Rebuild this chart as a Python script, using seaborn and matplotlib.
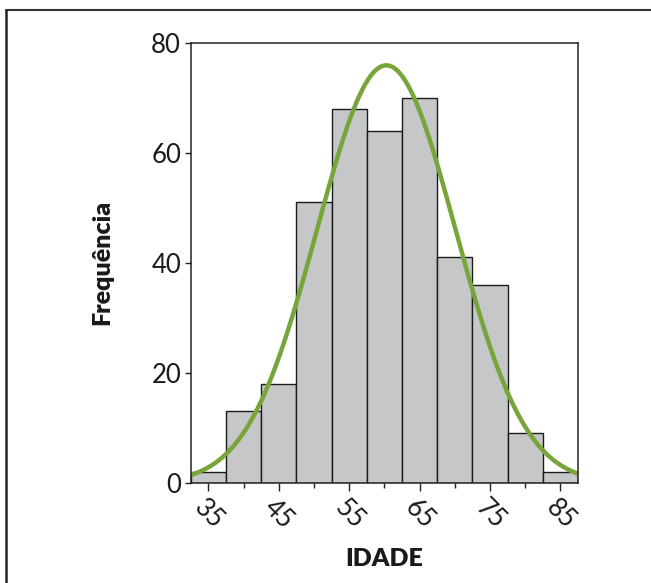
import numpy as np
import pandas as pd
import matplotlib.pyplot as plt
import seaborn as sns
from matplotlib.lines import Line2D

# histogram counts per 5-year age bin (centres 35..85)
bin_centres = [35, 40, 45, 50, 55, 60, 65, 70, 75, 80, 85]
counts = [2, 13, 18, 51, 68, 64, 70, 41, 36, 9, 2]
x_ticks = [35, 45, 55, 65, 75, 85]
y_ticks = [0, 20, 40, 60, 80]

bin_width = 5
lo = bin_centres[0] - bin_width / 2
hi = bin_centres[-1] + bin_width / 2

df = pd.DataFrame({'idade': bin_centres, 'n': counts})

# fitted normal curve from the binned data
n_total = df['n'].sum()
mean = np.average(df['idade'], weights=df['n'])
sd = np.sqrt(np.sum(df['n'] * (df['idade'] - mean) ** 2) / (n_total - 1))
xs = np.linspace(lo, hi, 400)
curve = pd.DataFrame({
    'x': xs,
    'y': n_total * bin_width / (sd * np.sqrt(2 * np.pi)) * np.exp(-0.5 * ((xs - mean) / sd) ** 2),
})

sns.set_style('ticks')
plt.rcParams['font.family'] = ['Lato', 'DejaVu Sans']

fig = plt.figure(figsize=(6.51, 5.83), dpi=100)
ax = fig.add_axes([0.293, 0.172, 0.595, 0.755])

sns.histplot(data=df, x='idade', weights='n', binwidth=bin_width, binrange=(lo, hi), ax=ax,
             color='#c6c7c9', edgecolor='#1a1a1a', linewidth=1.0, alpha=1)
sns.lineplot(data=curve, x='x', y='y', ax=ax, color='#78a53a', linewidth=3.2)

ax.set_xlim(lo, hi)
ax.set_ylim(0, 80)
ax.set_xticks(x_ticks)
ax.set_xticks([40, 50, 60, 70, 80], minor=True)
ax.set_yticks(y_ticks)

ax.tick_params(axis='x', which='major', length=6, width=1, color='#222222', labelsize=18.5,
               pad=3, direction='out')
ax.tick_params(axis='x', which='minor', length=3.5, width=1, color='#222222')
ax.tick_params(axis='y', length=4, width=1, color='#222222', labelsize=18.5, pad=3)
for lab in ax.get_xticklabels():
    lab.set_rotation(-45)
    lab.set_ha('center')
    lab.set_va('top')

for s in ax.spines.values():
    s.set_visible(True)
    s.set_color('#222222')
    s.set_linewidth(1.1)

ax.set_xlabel('IDADE', fontsize=18, fontweight='heavy', labelpad=10, color='#1a1a1a')
ax.set_ylabel('Frequência', fontsize=18, fontweight='heavy', labelpad=27, color='#1a1a1a')
ax.tick_params(labelcolor='#1a1a1a')

# outer frame (top and left edges)
fig.add_artist(Line2D([0.009, 1.0], [1 - 9.5 / 583, 1 - 9.5 / 583], transform=fig.transFigure,
                      color='#333333', linewidth=1.5))
fig.add_artist(Line2D([0.009, 0.009], [0.0, 1 - 9.5 / 583], transform=fig.transFigure,
                      color='#222222', linewidth=1.8))

fig.savefig('out.png', dpi=100)
plt.close(fig)
